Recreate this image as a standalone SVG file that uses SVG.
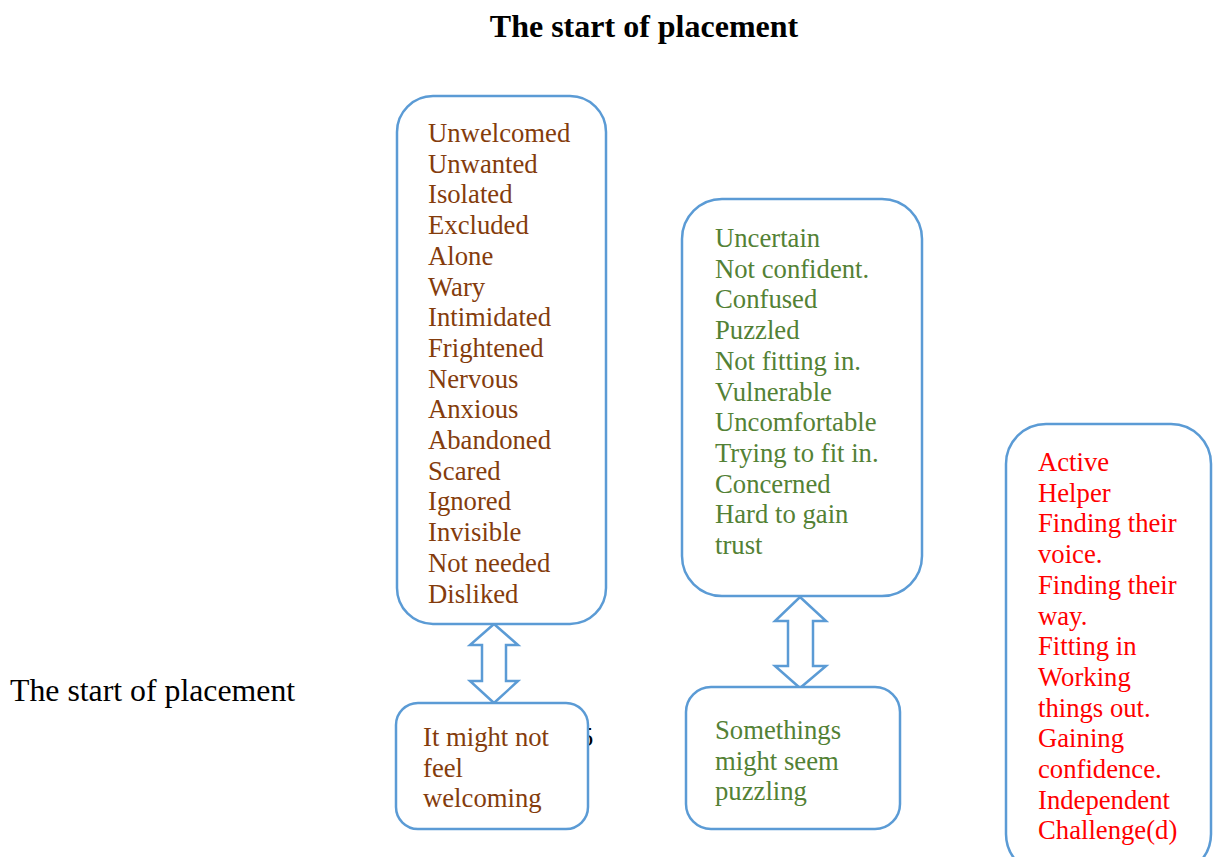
<svg xmlns="http://www.w3.org/2000/svg" width="1219" height="857" viewBox="0 0 1219 857">
  <style>
    .box { fill: #ffffff; stroke: #5B9BD5; stroke-width: 2.5; }
    .arrow { fill: #ffffff; stroke: #5B9BD5; stroke-width: 2.5; stroke-linejoin: miter; }
    text { font-family: "Liberation Serif", "Times New Roman", serif; font-size: 26.7px; }
    .brown { fill: #843C0C; }
    .green { fill: #538135; }
    .red { fill: #FF0000; }
    .plain { fill: #000000; }
  </style>
  <rect width="1219" height="857" fill="#ffffff"/>

  <text id="title" x="644" y="37" text-anchor="middle" font-weight="bold" style="font-size:32px" class="plain">The start of placement</text>
  <text id="side-label" x="10" y="701" class="plain" style="font-size:31.8px">The start of placement</text>
  <!-- stray page number, mostly hidden behind the box -->
  <text x="580" y="746" class="plain">5</text>

  <g id="connectors">
    <polygon class="arrow" points="494,624 518,645 506,645 506,681 518,681 494,703 470,681 482,681 482,645 470,645"/>
    <polygon class="arrow" points="800,597 826,621 813,621 813,666 826,666 800,688 775,666 788,666 788,621 775,621"/>
  </g>

  <g id="feelings-list">
    <rect class="box" x="397" y="96" width="209" height="528" rx="36"/>
    <text class="brown" x="428">
      <tspan x="428" y="142">Unwelcomed</tspan>
      <tspan x="428" dy="30.7">Unwanted</tspan>
      <tspan x="428" dy="30.7">Isolated</tspan>
      <tspan x="428" dy="30.7">Excluded</tspan>
      <tspan x="428" dy="30.7">Alone</tspan>
      <tspan x="428" dy="30.7">Wary</tspan>
      <tspan x="428" dy="30.7">Intimidated</tspan>
      <tspan x="428" dy="30.7">Frightened</tspan>
      <tspan x="428" dy="30.7">Nervous</tspan>
      <tspan x="428" dy="30.7">Anxious</tspan>
      <tspan x="428" dy="30.7">Abandoned</tspan>
      <tspan x="428" dy="30.7">Scared</tspan>
      <tspan x="428" dy="30.7">Ignored</tspan>
      <tspan x="428" dy="30.7">Invisible</tspan>
      <tspan x="428" dy="30.7">Not needed</tspan>
      <tspan x="428" dy="30.7">Disliked</tspan>
    </text>
  </g>

  <g id="not-welcoming">
    <rect class="box" x="396" y="703" width="192" height="126" rx="22"/>
    <text class="brown">
      <tspan x="423" y="746">It might not</tspan>
      <tspan x="423" dy="30.7">feel</tspan>
      <tspan x="423" dy="30.7">welcoming</tspan>
    </text>
  </g>

  <g id="uncertain-list">
    <rect class="box" x="682" y="199" width="240" height="397" rx="40"/>
    <text class="green">
      <tspan x="715" y="247">Uncertain</tspan>
      <tspan x="715" dy="30.7">Not confident.</tspan>
      <tspan x="715" dy="30.7">Confused</tspan>
      <tspan x="715" dy="30.7">Puzzled</tspan>
      <tspan x="715" dy="30.7">Not fitting in.</tspan>
      <tspan x="715" dy="30.7">Vulnerable</tspan>
      <tspan x="715" dy="30.7">Uncomfortable</tspan>
      <tspan x="715" dy="30.7">Trying to fit in.</tspan>
      <tspan x="715" dy="30.7">Concerned</tspan>
      <tspan x="715" dy="30.7">Hard to gain</tspan>
      <tspan x="715" dy="30.7">trust</tspan>
    </text>
  </g>

  <g id="puzzling">
    <rect class="box" x="686" y="687" width="214" height="142" rx="25"/>
    <text class="green">
      <tspan x="715" y="739">Somethings</tspan>
      <tspan x="715" dy="30.7">might seem</tspan>
      <tspan x="715" dy="30.7">puzzling</tspan>
    </text>
  </g>

  <g id="growth-list">
    <rect class="box" x="1006" y="424" width="205" height="450" rx="40"/>
    <text class="red">
      <tspan x="1038" y="471">Active</tspan>
      <tspan x="1038" dy="30.7">Helper</tspan>
      <tspan x="1038" dy="30.7">Finding their</tspan>
      <tspan x="1038" dy="30.7">voice.</tspan>
      <tspan x="1038" dy="30.7">Finding their</tspan>
      <tspan x="1038" dy="30.7">way.</tspan>
      <tspan x="1038" dy="30.7">Fitting in</tspan>
      <tspan x="1038" dy="30.7">Working</tspan>
      <tspan x="1038" dy="30.7">things out.</tspan>
      <tspan x="1038" dy="30.7">Gaining</tspan>
      <tspan x="1038" dy="30.7">confidence.</tspan>
      <tspan x="1038" dy="30.7">Independent</tspan>
      <tspan x="1038" dy="30.7">Challenge(d)</tspan>
    </text>
  </g>
</svg>
